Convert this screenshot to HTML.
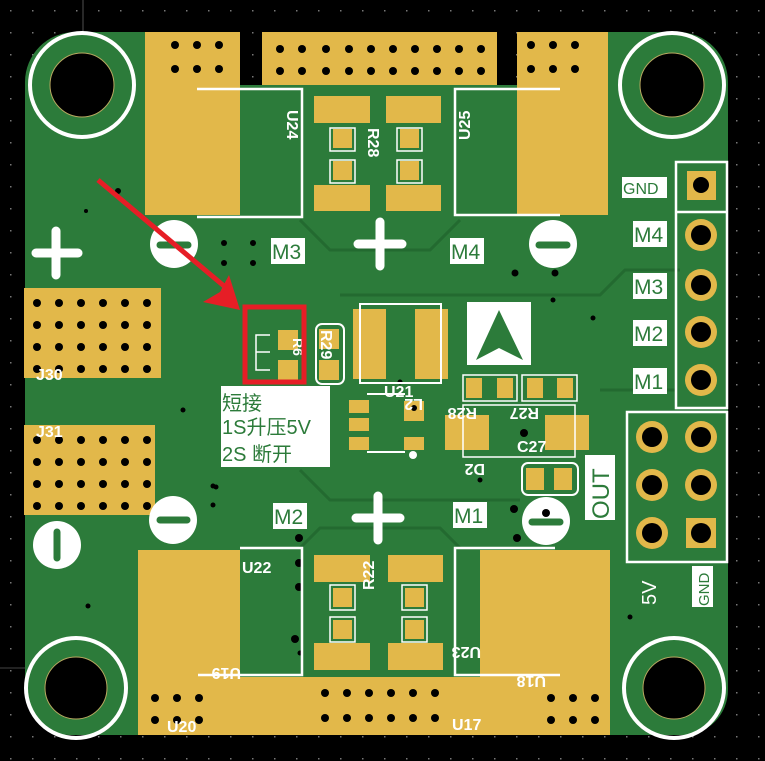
<!DOCTYPE html>
<html><head><meta charset="utf-8"><style>
html,body{margin:0;padding:0;background:#000;}
svg{display:block}
text{font-family:"Liberation Sans","Noto Sans CJK SC",sans-serif;}
</style></head><body>
<svg width="765" height="761" viewBox="0 0 765 761" xmlns="http://www.w3.org/2000/svg">
<defs>
<pattern id="dots" width="22" height="22" patternUnits="userSpaceOnUse"><rect x="10" y="10" width="1.5" height="1.5" fill="#777"/></pattern>
</defs>
<rect width="765" height="761" fill="#000"/>
<rect width="765" height="761" fill="url(#dots)"/>
<line x1="83" x2="83" y1="0" y2="110" stroke="#888" stroke-width="0.6"/>
<line x1="0" x2="40" y1="668" y2="668" stroke="#888" stroke-width="0.6"/>
<!-- board -->
<path d="M75,32 H240 V85 H262 V32 H497 V85 H517 V32 H678 A50,50 0 0 1 728,82 V690 A45,45 0 0 1 683,735 H538 V672 H512 V735 H238 V672 H213 V735 H70 A45,45 0 0 1 25,690 V82 A50,50 0 0 1 75,32 Z" fill="#2c7b3a"/>
<g fill="none" stroke="#236a30" stroke-width="3">
<path d="M300,220 L330,250 H430 L460,220"/>
<path d="M300,548 L320,528 H440 L460,548"/>
<path d="M340,295 H600 L625,270 H680"/>
<path d="M300,470 L330,500 H520"/>
<path d="M600,390 H675"/>
</g>
<g fill="#e2b84a">
<rect x="145" y="32" width="95" height="183"/>
<rect x="262" y="32" width="235" height="53"/>
<rect x="517" y="32" width="91" height="183"/>
<rect x="24" y="288" width="137" height="90"/>
<rect x="24" y="425" width="131" height="90"/>
<rect x="138" y="550" width="102" height="185"/>
<rect x="240" y="677" width="272" height="58"/>
<rect x="480" y="550" width="130" height="185"/>
<rect x="314" y="96" width="56" height="27"/><rect x="386" y="96" width="55" height="27"/>
<rect x="333" y="129" width="19" height="19"/><rect x="400" y="129" width="19" height="19"/>
<rect x="333" y="161" width="19" height="19"/><rect x="400" y="161" width="19" height="19"/>
<rect x="314" y="185" width="56" height="26"/><rect x="386" y="185" width="55" height="26"/>
<rect x="314" y="555" width="56" height="27"/><rect x="388" y="555" width="55" height="27"/>
<rect x="333" y="588" width="19" height="19"/><rect x="405" y="588" width="19" height="19"/>
<rect x="333" y="620" width="19" height="19"/><rect x="405" y="620" width="19" height="19"/>
<rect x="314" y="643" width="56" height="27"/><rect x="388" y="643" width="55" height="27"/>
<rect x="353" y="309" width="33" height="70"/><rect x="415" y="309" width="33" height="70"/>
<rect x="278" y="330" width="20" height="20"/><rect x="278" y="360" width="20" height="20"/>
<rect x="319" y="329" width="20" height="20"/><rect x="319" y="360" width="20" height="20"/>
<rect x="349" y="400" width="20" height="13"/><rect x="349" y="418" width="20" height="13"/><rect x="349" y="437" width="20" height="13"/>
<rect x="404" y="401" width="20" height="20"/><rect x="404" y="437" width="20" height="13"/>
<rect x="445" y="415" width="44" height="35"/><rect x="545" y="415" width="44" height="35"/>
<rect x="466" y="378" width="16" height="20"/><rect x="497" y="378" width="16" height="20"/>
<rect x="527" y="378" width="16" height="20"/><rect x="557" y="378" width="16" height="20"/>
<rect x="526" y="468" width="18" height="22"/><rect x="554" y="468" width="18" height="22"/>
</g>
<g fill="#000">
<circle cx="175" cy="45" r="4"/><circle cx="197" cy="45" r="4"/><circle cx="219" cy="45" r="4"/>
<circle cx="175" cy="69" r="4"/><circle cx="197" cy="69" r="4"/><circle cx="219" cy="69" r="4"/>
<g id="tr"><circle cx="280" cy="49" r="4"/><circle cx="302" cy="49" r="4"/><circle cx="326" cy="49" r="4"/><circle cx="349" cy="49" r="4"/><circle cx="371" cy="49" r="4"/><circle cx="393" cy="49" r="4"/><circle cx="415" cy="49" r="4"/><circle cx="437" cy="49" r="4"/><circle cx="459" cy="49" r="4"/><circle cx="481" cy="49" r="4"/></g>
<use href="#tr" y="22"/>
<circle cx="531" cy="45" r="4"/><circle cx="553" cy="45" r="4"/><circle cx="575" cy="45" r="4"/>
<circle cx="531" cy="69" r="4"/><circle cx="553" cy="69" r="4"/><circle cx="575" cy="69" r="4"/>
<g id="jr"><circle cx="37" cy="303" r="4"/><circle cx="59" cy="303" r="4"/><circle cx="81" cy="303" r="4"/><circle cx="103" cy="303" r="4"/><circle cx="125" cy="303" r="4"/><circle cx="147" cy="303" r="4"/></g>
<use href="#jr" y="22"/><use href="#jr" y="44"/><use href="#jr" y="66"/>
<use href="#jr" y="137"/><use href="#jr" y="159"/><use href="#jr" y="181"/><use href="#jr" y="203"/>
<circle cx="155" cy="698" r="4"/><circle cx="177" cy="698" r="4"/><circle cx="199" cy="698" r="4"/>
<circle cx="155" cy="720" r="4"/><circle cx="177" cy="720" r="4"/><circle cx="199" cy="720" r="4"/>
<g id="br"><circle cx="325" cy="693" r="4"/><circle cx="347" cy="693" r="4"/><circle cx="369" cy="693" r="4"/><circle cx="391" cy="693" r="4"/><circle cx="413" cy="693" r="4"/><circle cx="435" cy="693" r="4"/></g>
<use href="#br" y="25"/>
<circle cx="551" cy="698" r="4"/><circle cx="573" cy="698" r="4"/><circle cx="595" cy="698" r="4"/>
<circle cx="551" cy="720" r="4"/><circle cx="573" cy="720" r="4"/><circle cx="595" cy="720" r="4"/>
<circle cx="118" cy="191" r="3"/><circle cx="86" cy="211" r="2"/>
<circle cx="224" cy="243" r="3"/><circle cx="253" cy="243" r="3"/><circle cx="224" cy="263" r="3"/><circle cx="253" cy="263" r="3"/>
<circle cx="515" cy="273" r="3.5"/><circle cx="555" cy="273" r="3.5"/><circle cx="553" cy="300" r="2.5"/><circle cx="593" cy="318" r="2.5"/>
<circle cx="400" cy="382" r="2.5"/><circle cx="264" cy="393" r="3"/><circle cx="414" cy="408" r="3"/><circle cx="524" cy="433" r="4"/>
<circle cx="480" cy="480" r="2.5"/><circle cx="514" cy="509" r="4"/><circle cx="545" cy="503" r="4"/><circle cx="517" cy="538" r="4"/>
<circle cx="413" cy="455" r="2.5"/><circle cx="183" cy="410" r="2.5"/><circle cx="213" cy="486" r="2.5"/>
<circle cx="299" cy="538" r="4"/><circle cx="299" cy="563" r="4"/><circle cx="299" cy="587" r="4"/><circle cx="295" cy="639" r="4"/>
<circle cx="216" cy="487" r="2.5"/><circle cx="213" cy="505" r="2.5"/>
<circle cx="675" cy="677" r="2.5"/><circle cx="630" cy="617" r="2.5"/><circle cx="88" cy="606" r="2.5"/><circle cx="300" cy="653" r="2.5"/>
</g>
<g fill="none" stroke="#fff" stroke-width="2.5">
<path d="M197,89 H302 V217 H197"/>
<path d="M560,89 H455 V215 H560"/>
<path d="M240,548 H302 V675 H198"/>
<path d="M555,548 H455 V675 H560"/>
<path d="M676,162 H727 V408 H676 Z"/>
<path d="M676,212 H727"/>
<path d="M627,412 H727 V562 H627 Z"/>
<rect x="330" y="128" width="25" height="23" stroke-width="1.5"/><rect x="397" y="128" width="25" height="23" stroke-width="1.5"/>
<rect x="330" y="160" width="25" height="23" stroke-width="1.5"/><rect x="397" y="160" width="25" height="23" stroke-width="1.5"/>
<rect x="330" y="585" width="25" height="25" stroke-width="1.5"/><rect x="402" y="585" width="25" height="25" stroke-width="1.5"/>
<rect x="330" y="617" width="25" height="25" stroke-width="1.5"/><rect x="402" y="617" width="25" height="25" stroke-width="1.5"/>
<path d="M360,304 V383 H441 V304 Z" stroke-width="2"/>
<rect x="463" y="375" width="54" height="26" stroke-width="1.5"/><rect x="522" y="375" width="55" height="26" stroke-width="1.5"/>
<rect x="463" y="405" width="112" height="52" stroke-width="1.5"/>
<rect x="522" y="463" width="56" height="32" rx="6" stroke-width="2"/>
<rect x="316" y="324" width="28" height="60" rx="6" stroke-width="2"/>
<path d="M270,335 H256 V370 H270 M256,352 H270" stroke-width="1.5"/>
<path d="M367,394 H405 M367,452 H405" stroke-width="2"/>
</g>
<circle cx="413" cy="455" r="4" fill="#fff"/>
<g>
<rect x="687" y="171" width="29" height="29" fill="#e2b84a"/><circle cx="701" cy="185" r="8" fill="#000"/>
<g fill="#e2b84a"><circle cx="701" cy="235" r="16"/><circle cx="701" cy="285" r="16"/><circle cx="701" cy="332" r="16"/><circle cx="701" cy="380" r="16"/>
<circle cx="652" cy="437" r="16"/><circle cx="701" cy="437" r="16"/><circle cx="652" cy="485" r="16"/><circle cx="701" cy="485" r="16"/><circle cx="652" cy="533" r="16"/></g>
<rect x="686" y="518" width="30" height="30" fill="#e2b84a"/>
<g fill="#000"><circle cx="701" cy="235" r="10"/><circle cx="701" cy="285" r="10"/><circle cx="701" cy="332" r="10"/><circle cx="701" cy="380" r="10"/>
<circle cx="652" cy="437" r="10"/><circle cx="701" cy="437" r="10"/><circle cx="652" cy="485" r="10"/><circle cx="701" cy="485" r="10"/><circle cx="652" cy="533" r="10"/><circle cx="701" cy="533" r="10"/></g>
</g>
<g>
<circle cx="82" cy="85" r="52" fill="none" stroke="#fff" stroke-width="4"/><circle cx="82" cy="85" r="32" fill="#000" stroke="#b8a860" stroke-width="1"/>
<circle cx="672" cy="85" r="52" fill="none" stroke="#fff" stroke-width="4"/><circle cx="672" cy="85" r="32" fill="#000" stroke="#b8a860" stroke-width="1"/>
<circle cx="76" cy="688" r="50" fill="none" stroke="#fff" stroke-width="4"/><circle cx="76" cy="688" r="31" fill="#000" stroke="#b8a860" stroke-width="1"/>
<circle cx="674" cy="688" r="50" fill="none" stroke="#fff" stroke-width="4"/><circle cx="674" cy="688" r="31" fill="#000" stroke="#b8a860" stroke-width="1"/>
</g>
<g stroke="#fff" stroke-width="9" stroke-linecap="round">
<path d="M56,231 V275 M36,253 H78"/>
<path d="M380,222 V266 M358,244 H402"/>
<path d="M378,496 V540 M356,518 H400"/>
</g>
<g fill="#fff">
<circle cx="174" cy="244" r="24"/><circle cx="553" cy="244" r="24"/>
<circle cx="173" cy="520" r="24"/><circle cx="546" cy="521" r="24"/>
<circle cx="57" cy="545" r="24"/>
</g>
<g stroke="#2c7b3a" stroke-width="7" stroke-linecap="round">
<path d="M160,245 H188"/><path d="M539,245 H567"/><path d="M160,520 H187"/><path d="M532,522 H560"/><path d="M57,532 V558"/>
</g>
<circle cx="546" cy="513" r="4" fill="#000"/>
<rect x="467" y="302" width="64" height="63" fill="#fff"/>
<path d="M499,310 L476,360 L499,348 L523,360 Z" fill="#2c7b3a"/>
<g fill="#fff">
<rect x="271" y="238" width="34" height="26"/><rect x="450" y="238" width="34" height="26"/>
<rect x="273" y="503" width="34" height="26"/><rect x="453" y="502" width="34" height="26"/>
<rect x="622" y="177" width="45" height="21"/>
<rect x="633" y="221" width="34" height="26"/><rect x="633" y="273" width="34" height="26"/>
<rect x="633" y="320" width="34" height="26"/><rect x="633" y="368" width="34" height="26"/>
<rect x="585" y="455" width="30" height="65"/>
<rect x="692" y="566" width="21" height="41"/>
<rect x="221" y="386" width="109" height="81"/>
</g>
<g fill="#2c7b3a" font-size="21">
<text x="272" y="259">M3</text><text x="451" y="259">M4</text>
<text x="274" y="524">M2</text><text x="454" y="523">M1</text>
<text x="634" y="242">M4</text><text x="634" y="294">M3</text><text x="634" y="341">M2</text><text x="634" y="389">M1</text>
<text x="623" y="194" font-size="16">GND</text>
<text x="609" y="519" font-size="24" transform="rotate(-90 609 519)">OUT</text>
<text x="709" y="606" font-size="15" transform="rotate(-90 709 606)">GND</text>
<text x="222" y="410" font-size="20">短接</text>
<text x="222" y="434" font-size="20">1S升压5V</text>
<text x="222" y="461" font-size="20">2S 断开</text>
</g>
<g fill="#fff" font-size="16" font-weight="bold">
<text x="287" y="110" transform="rotate(90 287 110)">U24</text>
<text x="470" y="140" transform="rotate(-90 470 140)">U25</text>
<text x="242" y="573">U22</text>
<text x="452" y="730">U17</text>
<text x="167" y="732">U20</text>
<text x="283" y="678" transform="rotate(180 262 673)">U19</text>
<text x="513" y="657" transform="rotate(180 497 652)">U23</text>
<text x="580" y="686" transform="rotate(180 563 681)">U18</text>
<text x="384" y="397">U21</text>
<text x="451" y="409" transform="rotate(180 437 404)">L2</text>
<text x="517" y="418" transform="rotate(180 497 413)">R28</text>
<text x="575" y="418" transform="rotate(180 557 413)">R27</text>
<text x="517" y="452">C27</text>
<text x="515" y="474" transform="rotate(180 500 469)">D2</text>
<text x="321" y="330" transform="rotate(90 321 330)">R29</text>
<text x="293" y="338" transform="rotate(90 293 338)" font-size="14">R6</text>
<text x="368" y="128" transform="rotate(90 368 128)">R28</text>
<text x="374" y="590" transform="rotate(-90 374 590)">R22</text>
<text x="36" y="380">J30</text>
<text x="36" y="437">J31</text>
<text x="656" y="605" font-size="20" font-weight="normal" transform="rotate(-90 656 605)">5V</text>
</g>
<rect x="245" y="307" width="59" height="75" fill="none" stroke="#e61e26" stroke-width="5"/>
<path d="M98,180 L224,286" stroke="#e61e26" stroke-width="5"/>
<path d="M240,310 L203,302 L220,292 L229,275 Z" fill="#e61e26"/>
</svg>
</body></html>
